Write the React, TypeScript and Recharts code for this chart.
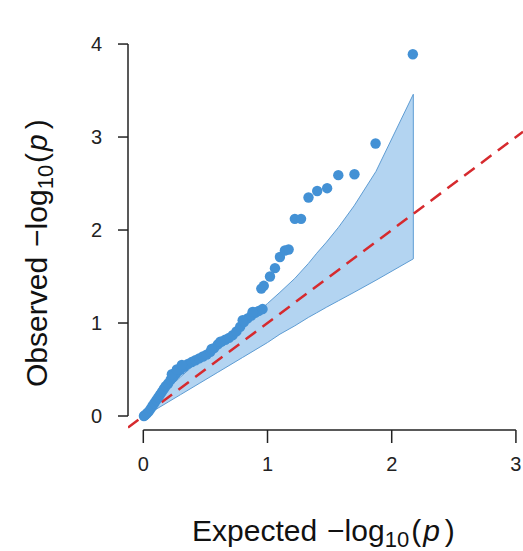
import { ComposedChart, Area, Line, Scatter, XAxis, YAxis, ReferenceLine } from 'recharts'

const expected = [
  0.005, 0.015, 0.03, 0.045, 0.06, 0.075, 0.09, 0.105, 0.12, 0.135, 0.15, 0.165, 0.18, 0.2, 0.22,
  0.24, 0.26, 0.28, 0.3, 0.33, 0.36, 0.39, 0.42, 0.45, 0.48, 0.51, 0.54, 0.57, 0.6, 0.63, 0.66,
  0.69, 0.72, 0.75, 0.78, 0.81, 0.84, 0.87, 0.9, 0.93, 0.96, 0.95, 0.97, 1.02, 1.06, 1.1, 1.14,
  1.17, 1.22, 1.27, 1.33, 1.4, 1.48, 1.57, 1.7, 1.87, 2.17,
  0.23, 0.27, 0.31, 0.55, 0.62, 0.8, 0.88,
]
const observed = [
  0.0, 0.01, 0.03, 0.05, 0.08, 0.11, 0.14, 0.17, 0.2, 0.23, 0.26, 0.29, 0.32, 0.35, 0.39, 0.42,
  0.45, 0.48, 0.5, 0.53, 0.56, 0.58, 0.6, 0.62, 0.64, 0.66, 0.69, 0.73, 0.77, 0.8, 0.82, 0.84,
  0.87, 0.91, 0.96, 1.01, 1.05, 1.08, 1.11, 1.13, 1.15, 1.37, 1.4, 1.5, 1.59, 1.71, 1.78, 1.79,
  2.12, 2.12, 2.35, 2.42, 2.45, 2.59, 2.6, 2.93, 3.89,
  0.45, 0.5, 0.55, 0.72, 0.8, 1.03, 1.12,
]

// confidence band
const bandX = [0.003, 0.05, 0.1, 0.2, 0.3, 0.45, 0.6, 0.8, 1.0, 1.1, 1.22, 1.329, 1.396, 1.475, 1.572, 1.697, 1.873, 2.174]
const bandLow = [0.0, 0.03, 0.07, 0.15, 0.23, 0.35, 0.47, 0.63, 0.79, 0.88, 0.97, 1.06, 1.11, 1.17, 1.24, 1.33, 1.46, 1.69]
const bandHigh = [0.02, 0.1, 0.17, 0.3, 0.42, 0.6, 0.77, 0.98, 1.21, 1.33, 1.48, 1.64, 1.75, 1.87, 2.03, 2.26, 2.63, 3.46]

const xTicks = [0, 1, 2, 3]
const yTicks = [0, 1, 2, 3, 4]
const X_DOMAIN = [-0.1232, 3.057]
const Y_DOMAIN = [-0.1505, 4.151]

const FONT = '"Liberation Sans", Arial, Helvetica, sans-serif'
const AXIS = '#222'
const POINT = '#4391d5'
const BAND_FILL = '#b3d4f1'
const BAND_STROKE = '#5e9cd3'
const DIAG = '#d62a2e'

export default function App() {
  const points = expected.map((x, i) => ({ x, y: observed[i] }))
  const band = bandX.map((x, i) => ({ x, band: [bandLow[i], bandHigh[i]] }))
  const diag = X_DOMAIN.map(v => ({ x: v, diag: v }))
  const last = bandX.length - 1

  return (
    <div style={{ position: 'absolute', left: 0, top: 0, width: 523, height: 551, background: '#fff' }}>
      <ComposedChart
        width={523}
        height={551}
        margin={{ top: 30, right: 0, bottom: 81, left: 68 }}
      >
        <XAxis
          type="number"
          dataKey="x"
          domain={X_DOMAIN}
          ticks={xTicks}
          allowDataOverflow
          axisLine={false}
          tickLine={{ stroke: AXIS, strokeWidth: 1.5 }}
          tickSize={13}
          tickMargin={14}
          height={40}
          tick={{ fontSize: 20, fill: AXIS, fontFamily: FONT }}
        />
        <YAxis
          type="number"
          domain={Y_DOMAIN}
          ticks={yTicks}
          allowDataOverflow
          axisLine={false}
          tickLine={{ stroke: AXIS, strokeWidth: 1.5 }}
          tickSize={10}
          tickMargin={16}
          width={60}
          tick={{ fontSize: 20, fill: AXIS, fontFamily: FONT }}
        />
        {/* axis lines only span the tick range, like base R */}
        <ReferenceLine
          segment={[{ x: X_DOMAIN[0], y: yTicks[0] }, { x: X_DOMAIN[0], y: yTicks[yTicks.length - 1] }]}
          stroke={AXIS}
          strokeWidth={1.5}
          ifOverflow="visible"
        />
        <ReferenceLine
          segment={[{ x: xTicks[0], y: Y_DOMAIN[0] }, { x: xTicks[xTicks.length - 1], y: Y_DOMAIN[0] }]}
          stroke={AXIS}
          strokeWidth={1.5}
          ifOverflow="visible"
        />
        <Area
          data={band}
          dataKey="band"
          type="linear"
          fill={BAND_FILL}
          fillOpacity={1}
          stroke={BAND_STROKE}
          strokeWidth={1}
          isAnimationActive={false}
        />
        <ReferenceLine
          segment={[{ x: bandX[last], y: bandLow[last] }, { x: bandX[last], y: bandHigh[last] }]}
          stroke={BAND_STROKE}
          strokeWidth={1}
        />
        <Line
          data={diag}
          dataKey="diag"
          type="linear"
          stroke={DIAG}
          strokeWidth={2.5}
          strokeDasharray="13 8"
          dot={false}
          isAnimationActive={false}
        />
        <Scatter
          data={points}
          dataKey="y"
          fill={POINT}
          isAnimationActive={false}
          shape={(p: any) => <circle cx={p.cx} cy={p.cy} r={5.2} fill={POINT} />}
        />
      </ComposedChart>

      {/* axis titles with plotmath-like subscript */}
      <svg
        width={523}
        height={551}
        style={{ position: 'absolute', left: 0, top: 0, pointerEvents: 'none' }}
      >
        <text x={192} y={541} fontSize={30} fontFamily={FONT} fill="#111">
          Expected
          <tspan dx={10}>−log</tspan>
          <tspan fontSize={22} dy={6}>10</tspan>
          <tspan dy={-6} dx={2}>(</tspan>
          <tspan fontStyle="italic" dx={2}>p</tspan>
          <tspan dx={5}>)</tspan>
        </text>
        <text transform="rotate(-90)" x={-387} y={47} fontSize={30} fontFamily={FONT} fill="#111">
          Observed
          <tspan dx={10}>−log</tspan>
          <tspan fontSize={22} dy={6}>10</tspan>
          <tspan dy={-6} dx={2}>(</tspan>
          <tspan fontStyle="italic" dx={2}>p</tspan>
          <tspan dx={5}>)</tspan>
        </text>
      </svg>
    </div>
  )
}
